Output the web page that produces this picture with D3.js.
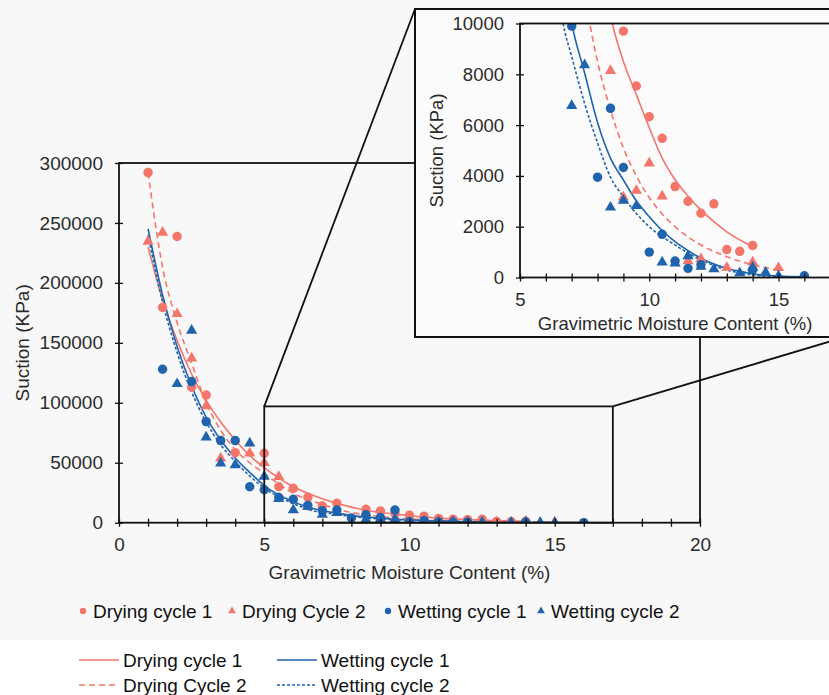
<!DOCTYPE html>
<html>
<head>
<meta charset="utf-8">
<script src="https://cdn.jsdelivr.net/npm/d3@7"></script>
<style>
body{margin:0;background:#fff;}
svg{display:block;font-family:"Liberation Sans",Arial,sans-serif;}
</style>
</head>
<body>
<svg id="chart" width="829" height="695"></svg>
<script>
// measured points [moisture %, suction kPa]
const dryingCycle1 = [[1,292000],[1.5,179500],[2,238700],[2.5,113000],[3,106500],[4,58400],[5,57900],
	[5.5,30000],[6,28700],[6.5,21200],[7,13900],[7.5,16200],[8.5,11200],[9,9700],[9.5,7540],[10,6330],
	[10.5,5480],[11,3580],[11.5,3000],[12,2530],[12.5,2900],[13,1100],[13.5,1030],[14,1260]];
const dryingCycle2 = [[1,234600],[1.5,242000],[2,174200],[2.5,137200],[3,97400],[3.5,53700],[4.5,57900],
	[5,50000],[5.5,38400],[6.5,13300],[8.5,8140],[9,3160],[9.5,3420],[10,4500],[10.5,3200],[11.5,650],
	[12,730],[13,390],[14,600],[15,380]];
const wettingCycle1 = [[1.5,128000],[2.5,117700],[3,84300],[3.5,68500],[4,68500],[4.5,30000],[5,27500],
	[5.5,21000],[6,19500],[6.5,14400],[7,9900],[7.5,10600],[8,3950],[8.5,6660],[9,4330],[9.5,10600],
	[10,1000],[10.5,1700],[11,650],[11.5,360],[12,500],[14,300],[16,70]];
const wettingCycle2 = [[2,115800],[2.5,160300],[3,71300],[3.5,49600],[4,48200],[4.5,66300],[5,38600],
	[5.5,20000],[6,10600],[6.5,13400],[7,6760],[7.5,8370],[8.5,2760],[9,3030],[9.5,2820],[10.5,600],
	[11,560],[11.5,850],[12,430],[12.5,330],[13.5,180],[14,400],[14.5,200],[15,60]];

// fitted curves
const dryingFit1 = [[1,230000],[1.5,186000],[2,152000],[2.5,124000],[3,102000],[3.5,84000],[4,69000],
	[4.5,56000],[5,46000],[6,30000],[7,20000],[8,13000],[8.57,10000],[9,8500],[9.5,7200],[10,5900],
	[10.5,4700],[11,3850],[11.5,3200],[12,2650],[12.5,2200],[13,1800],[13.5,1480],[14,1220]];
const dryingFit2 = [[1,292000],[1.5,213000],[2,167000],[2.5,133000],[3,100000],[3.5,77000],[4,61000],
	[4.5,50000],[5,41000],[6,24500],[7,15300],[7.7,10000],[8,8500],[8.5,6600],[9,5100],[9.5,4000],
	[10,3150],[10.5,2500],[11,2000],[11.5,1600],[12,1280],[13,820],[14,500],[15,300]];
const wettingFit1 = [[1,245000],[1.5,190000],[2,147000],[2.5,114000],[3,88000],[3.5,69000],[4,54000],
	[4.5,42000],[5,31000],[6,17500],[7,10000],[7.5,8050],[8,6100],[8.5,4700],[9,3840],[9.5,3020],
	[10,2390],[10.5,1850],[11,1410],[11.5,1060],[12,760],[13,360],[14,150],[15,60],[16,30]];
const wettingFit2 = [[1,240000],[1.5,184000],[2,142000],[2.5,109000],[3,84000],[3.5,65000],[4,51000],
	[4.5,39000],[5,29000],[6,16000],[6.67,10000],[7,8700],[7.5,6850],[8,5300],[8.5,3950],[9,3180],
	[9.5,2520],[10,2000],[11,1280],[12,690],[13,300],[14,100],[15,30]];

const mainXTicks = d3.range(0, 21, 1);
const mainYTicks = [0, 50000, 100000, 150000, 200000, 250000, 300000];
const insetXTicks = d3.range(5, 18, 1);
const insetYTicks = [0, 2000, 4000, 6000, 8000, 10000];
const zoomBox = {x0: 5, x1: 17, y0: 0, y1: 97000};

const RED = "#f4756a", BLUE = "#1f64ad", INK = "#2b2b2b";

const svg = d3.select("#chart");
svg.append("rect").attr("width", 829).attr("height", 640).attr("fill", "#f8f8f8");

const series = [
	{name: "Drying cycle 1", data: dryingCycle1, color: RED, shape: d3.symbolCircle},
	{name: "Drying Cycle 2", data: dryingCycle2, color: RED, shape: d3.symbolTriangle},
	{name: "Wetting cycle 1", data: wettingCycle1, color: BLUE, shape: d3.symbolCircle},
	{name: "Wetting cycle 2", data: wettingCycle2, color: BLUE, shape: d3.symbolTriangle}
];
const fits = [
	{name: "Drying cycle 1", data: dryingFit1, color: RED, dash: null},
	{name: "Drying Cycle 2", data: dryingFit2, color: RED, dash: "6,4"},
	{name: "Wetting cycle 1", data: wettingFit1, color: BLUE, dash: null},
	{name: "Wetting cycle 2", data: wettingFit2, color: BLUE, dash: "3,2"}
];

function crossTicks(g, dir, fontSize){
	g.selectAll(".tick line").attr(dir + "1", -4).attr(dir + "2", 4).attr("stroke", "#111").attr("stroke-width", 1.3);
	g.select(".domain").remove();
	g.selectAll("text").attr("fill", INK).style("font-size", fontSize);
}

function drawPanel(root, x, y, opts){
	let clipId = opts.id + "-clip";
	root.append("clipPath").attr("id", clipId).append("rect")
		.attr("x", x.range()[0]).attr("y", y.range()[1])
		.attr("width", x.range()[1] - x.range()[0]).attr("height", y.range()[0] - y.range()[1]);

	let plot = root.append("g").attr("clip-path", "url(#" + clipId + ")");
	let line = d3.line().x(d => x(d[0])).y(d => y(d[1])).curve(d3.curveMonotoneX);

	plot.selectAll(".fit").data(fits).enter().append("path")
		.attr("d", d => line(d.data))
		.attr("fill", "none")
		.attr("stroke", d => d.color)
		.attr("stroke-width", 1.6)
		.attr("stroke-dasharray", d => d.dash);

	series.forEach(function(s){
		plot.selectAll(null).data(s.data).enter().append("path")
			.attr("transform", d => "translate(" + x(d[0]) + "," + y(d[1]) + ")")
			.attr("d", d3.symbol().type(s.shape).size(s.shape === d3.symbolCircle ? 70 : 54))
			.attr("fill", s.color);
	});

	// frame of the plot area
	root.append("rect")
		.attr("x", x.range()[0]).attr("y", y.range()[1])
		.attr("width", x.range()[1] - x.range()[0]).attr("height", y.range()[0] - y.range()[1])
		.attr("fill", "none").attr("stroke", "#111").attr("stroke-width", 1.8);

	let xAxis = root.append("g").attr("transform", "translate(0," + y.range()[0] + ")")
		.call(d3.axisBottom(x).tickValues(opts.xTicks).tickSizeInner(4).tickSizeOuter(0).tickPadding(11)
			.tickFormat(d => d % 5 === 0 ? d : ""));
	crossTicks(xAxis, "y", opts.fontSize);

	let yAxis = root.append("g").attr("transform", "translate(" + x.range()[0] + ",0)")
		.call(d3.axisLeft(y).tickValues(opts.yTicks).tickSizeInner(4).tickSizeOuter(0).tickPadding(12)
			.tickFormat(d3.format("d")));
	crossTicks(yAxis, "x", opts.fontSize);

	root.append("text")
		.attr("x", (x.range()[0] + x.range()[1]) / 2 + opts.xTitleShift).attr("y", opts.xTitleY)
		.attr("text-anchor", "middle").attr("fill", INK).style("font-size", opts.fontSize)
		.text("Gravimetric Moisture Content (%)");
	root.append("text")
		.attr("transform", "translate(" + opts.yTitleX + "," + (y.range()[0] + y.range()[1]) / 2 + ") rotate(-90)")
		.attr("text-anchor", "middle").attr("fill", INK).style("font-size", opts.fontSize)
		.text("Suction (KPa)");
}

// main chart
let mx = d3.scaleLinear().domain([0, 20]).range([119, 700]),
	my = d3.scaleLinear().domain([0, 300000]).range([522.7, 163]);
let mainG = svg.append("g");
drawPanel(mainG, mx, my, {id: "main", xTicks: mainXTicks, yTicks: mainYTicks, xTitleY: 579, xTitleShift: 0, yTitleX: 29, fontSize: "19px"});

// zoom window and connectors
mainG.append("rect")
	.attr("x", mx(zoomBox.x0)).attr("y", my(zoomBox.y1))
	.attr("width", mx(zoomBox.x1) - mx(zoomBox.x0)).attr("height", my(zoomBox.y0) - my(zoomBox.y1))
	.attr("fill", "none").attr("stroke", "#111").attr("stroke-width", 1.8);

let frame = {x: 415, y: 9, w: 430, h: 328};
mainG.append("line").attr("x1", mx(zoomBox.x0)).attr("y1", my(zoomBox.y1)).attr("x2", frame.x).attr("y2", frame.y)
	.attr("stroke", "#111").attr("stroke-width", 1.8);
mainG.append("line").attr("x1", mx(zoomBox.x1)).attr("y1", my(zoomBox.y1)).attr("x2", frame.x + frame.w).attr("y2", frame.y + frame.h)
	.attr("stroke", "#111").attr("stroke-width", 1.8);

// inset
let insetG = svg.append("g");
insetG.append("rect").attr("x", frame.x).attr("y", frame.y).attr("width", frame.w).attr("height", frame.h)
	.attr("fill", "#fbfbfb").attr("stroke", "#111").attr("stroke-width", 2);
let ix = d3.scaleLinear().domain([5, 17]).range([520, 830.2]),
	iy = d3.scaleLinear().domain([0, 10000]).range([277.5, 23.5]);
drawPanel(insetG, ix, iy, {id: "inset", xTicks: insetXTicks, yTicks: insetYTicks, xTitleY: 330, xTitleShift: 0, yTitleX: 443, fontSize: "18.5px"});

// marker legend
let legend1 = svg.append("g");
let legendX = [83, 232, 388, 541];
series.forEach(function(s, i){
	legend1.append("path")
		.attr("transform", "translate(" + legendX[i] + ",611)")
		.attr("d", d3.symbol().type(s.shape).size(s.shape === d3.symbolCircle ? 32 : 26))
		.attr("fill", s.color);
	legend1.append("text").attr("x", legendX[i] + 10).attr("y", 618)
		.attr("fill", "#111").style("font-size", "19px").text(s.name);
});

// line legend
let legend2 = svg.append("g");
let lineLegendPos = [[79, 660], [79, 685], [277, 660], [277, 685]];
fits.forEach(function(f, i){
	let p = lineLegendPos[i];
	legend2.append("line").attr("x1", p[0]).attr("x2", p[0] + 40).attr("y1", p[1]).attr("y2", p[1])
		.attr("stroke", f.color).attr("stroke-width", 1.6).attr("stroke-dasharray", f.dash);
	legend2.append("text").attr("x", p[0] + 44).attr("y", p[1] + 7)
		.attr("fill", "#111").style("font-size", "19px").text(f.name);
});
</script>
</body>
</html>
